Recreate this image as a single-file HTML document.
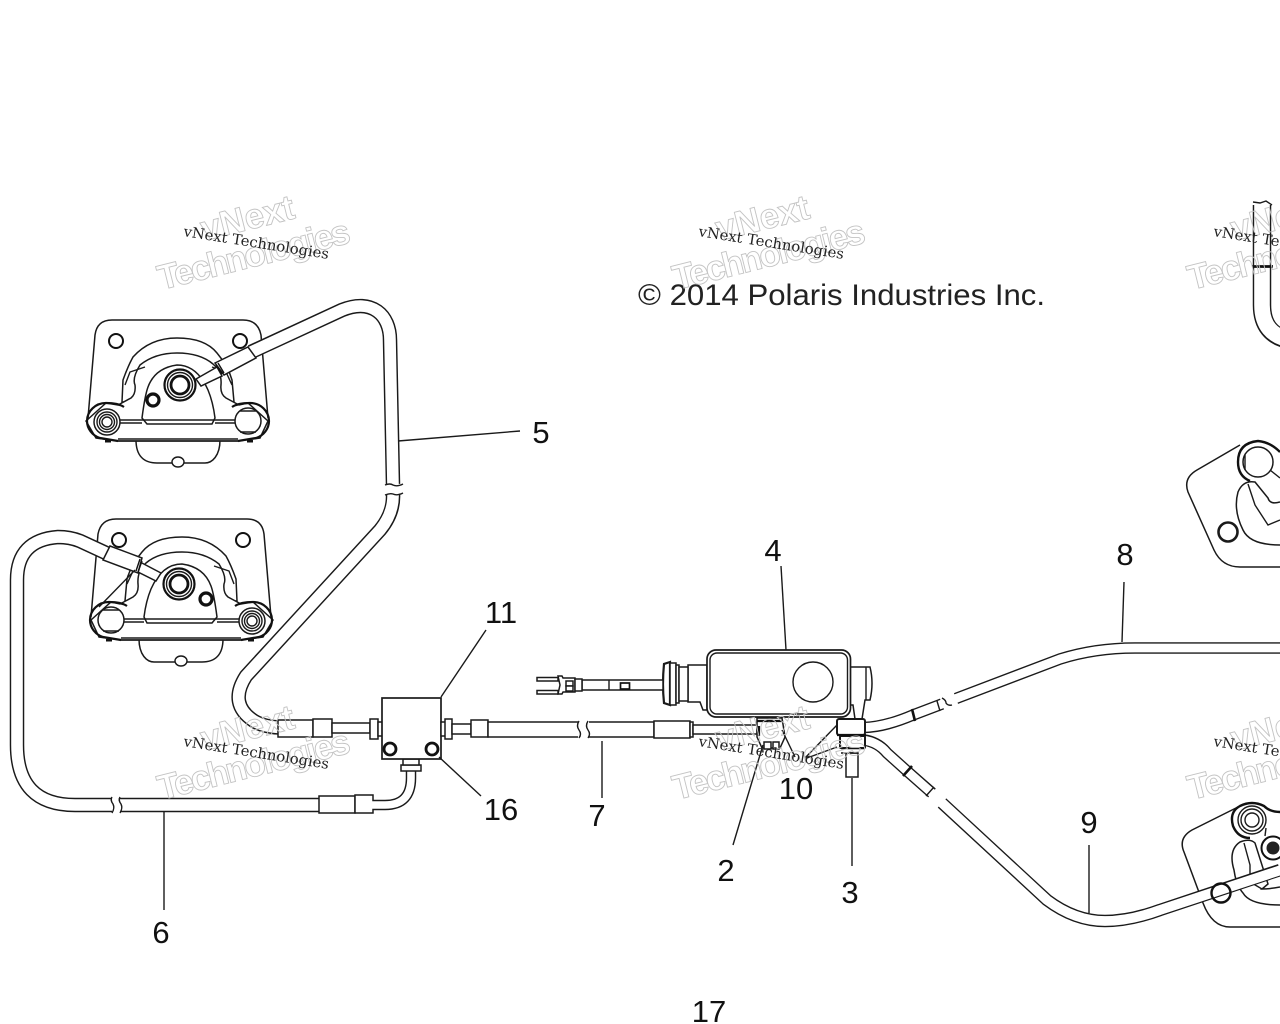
<!DOCTYPE html>
<html><head><meta charset="utf-8"><style>
html,body{margin:0;padding:0;background:#fff}
svg{display:block}
.l{fill:none;stroke:#1a1a1a;stroke-width:1.4}
.t{fill:#fff;stroke:#1a1a1a;stroke-width:1.5}
.b{fill:none;stroke:#111;stroke-width:2.6}
.n{font-family:"Liberation Sans",sans-serif;font-size:31px;fill:#111;text-anchor:middle}
.w1{font-family:"DejaVu Serif","Liberation Serif",serif;font-size:14.5px;fill:#222}
.w2{font-family:"Liberation Sans",sans-serif;font-size:35px;font-weight:700;fill:none;stroke:#c4c4c4;stroke-width:.9}
.tk{fill:none;stroke:#1a1a1a;stroke-linecap:butt;stroke-linejoin:round}
.tw{fill:none;stroke:#fff;stroke-linecap:butt;stroke-linejoin:round}
</style></head><body>
<svg width="1280" height="1024" viewBox="0 0 1280 1024" xmlns="http://www.w3.org/2000/svg">
<rect width="1280" height="1024" fill="#fff"/>
<defs>
<g id="cal">
<path class="t" d="M88,418 L95,335 Q97,320 112,320 L243,320 Q258,320 261,335 L268,418"/>
<circle cx="116" cy="341" r="7" fill="#fff" stroke="#111" stroke-width="2"/>
<circle cx="240" cy="341" r="7" fill="#fff" stroke="#111" stroke-width="2"/>
<path class="t" d="M136,440 C136,456 144,463 157,463 L171,463 L205,463 C212,463 220,456 220,440"/>
<ellipse cx="178" cy="462" rx="6" ry="5" fill="#fff" stroke="#1a1a1a" stroke-width="1.4"/>
<path class="t" d="M122,402 L123,380 Q128,366 133,357 Q150,338 177,338 Q205,338 217,353 Q228,366 232,380 L234,402Z"/>
<path class="t" d="M118,405 L131,398 Q136,394 135,385 Q132,378 140,365 Q155,353 177,353 Q200,353 213,364 Q222,372 221,385 Q220,394 226,398 L239,405 L248,403 L268,421 L260,438 L238,441 L118,441 L96,438 L86,421 L106,403Z"/>
<path class="l" d="M125,385 L130,372 L145,367 M232,385 L226,372 L212,367"/>
<path class="t" d="M142,418 Q145,395 148,387 Q155,368 177,365 Q197,365 208,390 Q213,402 215,418 L212,424 L147,424Z"/>
<path d="M87,421 A19,18 0 0 1 106,403 Q118,403 124,407 M87,421 A19,18 0 0 0 100,438 L118,441 M269,421 A19,18 0 0 0 250,403 Q238,403 232,407 M269,421 A19,18 0 0 1 256,438 L238,441" fill="none" stroke="#111" stroke-width="2.2"/>
<path class="l" d="M119,420 L238,420 M119,423 L142,423 M215,423 L238,423 M118,441 L238,441 M118,439 L238,439"/>
<circle class="t" cx="107" cy="422" r="13"/>
<circle class="l" cx="107" cy="422" r="10"/>
<circle class="l" cx="107" cy="422" r="7.5"/>
<circle class="l" cx="107" cy="422" r="5"/>
<circle cx="248" cy="421" r="13" fill="#fff" stroke="#1a1a1a" stroke-width="1.5"/>
<path class="l" d="M240,411 L256,411 M240,432 L256,432"/>
<circle cx="180" cy="385" r="15.500" fill="#fff" stroke="#111" stroke-width="2.2"/>
<circle class="l" cx="180" cy="385" r="12.500"/>
<circle cx="180" cy="385" r="9" fill="#fff" stroke="#111" stroke-width="2.8"/>
<circle cx="153" cy="400" r="6" fill="#fff" stroke="#111" stroke-width="3.2"/>
<rect x="105" y="440" width="6" height="2.5" fill="#111"/><rect x="247" y="440" width="6" height="2.5" fill="#111"/>
</g>
</defs>

<!-- calipers left -->
<use href="#cal"/>
<use href="#cal" transform="translate(359,199) scale(-1,1)"/>

<!-- tube 5 -->
<path class="tk" stroke-width="14.5" d="M251,352 L342,310 C372,298 390,315 390,340 L393,484"/>
<path class="tw" stroke-width="11.6" d="M250,352.600 L342,310 C372,298 390,315 390,340 L393,485"/>
<path class="tk" stroke-width="14.5" d="M393,494 Q394,513 380,530 L246,676 Q228,704 254,721 Q264,727 280,727.500"/>
<path class="tw" stroke-width="11.6" d="M393,493 Q394,513 380,530 L246,676 Q228,704 254,721 Q264,727 281,727.500"/>
<path class="l" d="M385,485 Q390,483 393,485 Q397,487 403,484 M385,495 Q390,493 393,494 Q397,496 403,493"/>

<!-- fittings upper caliper -->
<path class="t" d="M196,379 L217,367 L222,376 L201,386Z"/>
<path class="t" d="M215,363 L248,347 L256,358 L224,375Z"/>
<path class="b" style="stroke-width:1.4" d="M216,365 L222,374 M218,363 L224,373"/>

<!-- tube 6 + lower fitting -->
<path class="tk" stroke-width="14.5" d="M106,553 L80,541 Q70,537 58,537 Q17,540 17,580 L17,745 Q17,805 75,805 L112,805"/>
<path class="tw" stroke-width="11.6" d="M107,553.500 L80,541 Q70,537 58,537 Q17,540 17,580 L17,745 Q17,805 75,805 L113,805"/>
<path class="tk" stroke-width="14.5" d="M120,805 L320,805"/>
<path class="tw" stroke-width="11.6" d="M119,805 L321,805"/>
<path class="l" d="M112,797 Q110,800 113,804 Q115,808 112,813 M120,797 Q118,800 121,804 Q123,808 120,813"/>
<path class="t" d="M140,562 L161,573 L156,581 L136,571Z"/>
<path class="t" d="M110,546 L142,558 L138,573 L103,560Z"/>
<path class="l" d="M135,570 L99,607"/>
<path class="b" style="stroke-width:1.4" d="M140,559 L136,571 M142,561 L138,572"/>
<rect class="t" x="319" y="796" width="36" height="17"/>
<rect class="t" x="355" y="795" width="18" height="18"/>
<path class="tk" stroke-width="10.500" d="M373,805 L385,805 Q411,805 411,778 L411,770"/>
<path class="tw" stroke-width="7.600" d="M372,805 L385,805 Q411,805 411,778 L411,769"/>
<rect class="t" x="401" y="765" width="20" height="6"/>
<rect class="t" x="403" y="759" width="16" height="6"/>

<!-- main line -->
<rect class="t" x="278" y="720" width="35" height="17"/>
<rect class="t" x="313" y="719" width="19" height="18"/>
<rect class="t" x="332" y="723" width="38" height="10"/>
<rect class="t" x="370" y="719" width="8" height="20"/>
<rect class="t" x="378" y="722" width="5" height="14"/>
<rect class="t" x="382" y="698" width="59" height="61" style="stroke-width:1.7"/>
<circle cx="390" cy="749" r="6" fill="none" stroke="#111" stroke-width="2.800"/>
<circle cx="432" cy="749" r="6" fill="none" stroke="#111" stroke-width="2.800"/>
<rect class="t" x="441" y="722" width="5" height="14"/>
<rect class="t" x="445" y="719" width="7" height="20"/>
<rect class="t" x="452" y="724" width="19" height="10"/>
<rect class="t" x="471" y="720" width="17" height="17"/>
<rect class="t" x="488" y="722" width="92" height="15"/>
<rect class="t" x="587" y="722" width="67" height="15"/>
<rect x="578" y="718" width="11" height="23" fill="#fff"/>
<path class="l" d="M579,721 Q576,726 579,730 Q582,734 579,738 M588,721 Q585,726 588,730 Q591,734 588,738"/>
<rect class="t" x="654" y="721" width="36" height="17"/>
<rect class="t" x="690" y="722" width="3" height="15"/>
<rect class="t" x="693" y="725" width="64" height="9"/>

<!-- master cylinder -->
<path class="t" d="M688,665 L707,665 L707,710 L703,710 L700,702 L688,702Z"/>
<path class="t" d="M670,662 L664,664 Q662,684 664,703 L670,705Z" style="stroke-width:2.200"/>
<rect class="t" x="670" y="663" width="6" height="42"/>
<rect class="t" x="676" y="665" width="3" height="38"/>
<rect class="t" x="679" y="667" width="9" height="34"/>
<rect class="t" x="582" y="680" width="81" height="10"/>
<path class="l" d="M609,680 V690"/>
<rect x="620.500" y="683" width="9" height="6" fill="#fff" stroke="#111" stroke-width="1.700"/>
<path class="t" d="M558,676 L562,676 L563,678 L575,678 L575,692 L563,692 L562,694 L558,694 L560,685Z"/>
<rect class="t" x="575" y="679" width="7" height="12"/>
<rect class="t" x="566" y="681" width="7" height="5"/><rect class="t" x="566" y="686" width="7" height="5"/>
<rect class="t" x="537" y="677.500" width="21" height="3.500"/><rect class="t" x="537" y="690.500" width="21" height="3.500"/>
<path class="t" d="M850,667 L870,667 Q874,683 870,700 L865,700 L862,719 L855,719 L853,705 L850,705Z"/>
<path class="l" d="M866,667 V700"/>
<rect x="707" y="650" width="143.500" height="67" rx="9" fill="#fff" stroke="#1a1a1a" stroke-width="1.700"/>
<rect x="710" y="653" width="137.500" height="61" rx="7" fill="none" stroke="#1a1a1a" stroke-width="1.400"/>
<circle class="l" cx="813" cy="682" r="20"/>

<!-- clamp -->
<path class="t" d="M757,718 L782,718 L785,737 L780,748 L762,748 L757,737Z"/>
<path class="b" style="stroke-width:2.200" d="M757,721 L782,721 M759,726 V736"/>
<rect class="t" x="764" y="742" width="7" height="7"/><rect class="t" x="773" y="742" width="6" height="7"/>

<!-- tube 8 -->
<path class="tk" stroke-width="11.500" d="M864,727.500 Q885,727 913,715 L942,704"/>
<path class="tw" stroke-width="8.800" d="M863,727.500 Q885,727 913,715 L943,703.600"/>
<path class="b" d="M912,709 L915,721"/>
<path class="l" d="M937,701 L940,711"/>
<path class="l" d="M942,698 Q946,700 946,703 Q948,706 952,705"/>
<path class="tk" stroke-width="11.500" d="M956,698.500 L1060,659 Q1095,648 1135,648 L1280,648"/>
<path class="tw" stroke-width="8.800" d="M955,698.900 L1060,659 Q1095,648 1135,648 L1281,648"/>

<!-- tube 9 first part -->
<path class="tk" stroke-width="11.500" d="M864,740 Q878,742 887,753 L907,771 L932,793"/>
<path class="tw" stroke-width="8.800" d="M863,740 Q878,742 887,753 L907,771 L933,794"/>
<path class="b" d="M903,776 L912,766"/>
<path class="l" d="M926,796 L934,787"/>
<rect class="t" x="837" y="719" width="28" height="16" rx="2" style="stroke-width:2"/>
<rect class="t" x="840" y="736" width="25" height="12" rx="1" style="stroke-width:2"/>
<path d="M837,735 H866" stroke="#111" stroke-width="2.200"/>
<rect class="t" x="846" y="753" width="12" height="24"/>
<path class="b" style="stroke-width:1.600" d="M841,748.500 H865 M841,753 H858"/>

<!-- right upper -->
<path class="t" d="M1240,445 L1197,470 Q1183,478 1188,492 L1214,550 Q1222,567 1240,567 L1280,567"/>
<circle cx="1228" cy="532" r="9.500" fill="none" stroke="#1a1a1a" stroke-width="2.600"/>
<path d="M1280,452 Q1270,442 1258,441 Q1238,443 1238,462 Q1238,476 1250,481" fill="none" stroke="#111" stroke-width="2.400"/>
<circle class="t" cx="1258" cy="462" r="15"/>
<path class="l" d="M1245,455 L1245,470 M1270,470 L1280,478"/>
<path class="t" d="M1280,545 Q1250,545 1243,530 Q1233,510 1238,492 Q1243,480 1255,482 L1268,498 Q1270,505 1280,502"/>
<path class="l" d="M1248,484 L1255,505 L1268,525 L1280,520"/>
<path class="tk" stroke-width="18.500" d="M1262,205 L1262,305 Q1262,335 1290,340"/>
<path class="tw" stroke-width="15.600" d="M1262,204 L1262,305 Q1262,335 1291,340"/>
<path d="M1252,266.500 H1273" stroke="#111" stroke-width="2.800"/>
<path class="l" d="M1253,202 L1260,203 L1266,201 L1272,205"/>

<!-- right lower caliper -->
<path class="t" d="M1238,807 L1192,830 Q1178,838 1184,852 L1203,903 Q1212,927 1230,927 L1280,927"/>
<path d="M1280,812 Q1270,812 1264,806 Q1252,800 1240,806 Q1229,812 1233,826 Q1238,838 1250,838" fill="none" stroke="#111" stroke-width="2.400"/>
<circle class="l" cx="1252" cy="820" r="14"/>
<circle class="l" cx="1252" cy="820" r="11"/>
<circle class="l" cx="1252" cy="820" r="7"/>
<path class="l" d="M1266,828 L1265,836"/>
<path class="t" d="M1280,905 Q1250,905 1243,893 Q1236,885 1234,870 Q1228,850 1240,842 Q1250,838 1255,843 L1268,884 L1262,889 Q1270,889 1280,887"/>
<circle cx="1273" cy="848" r="11.500" fill="#fff" stroke="#111" stroke-width="2"/>
<circle cx="1273" cy="848" r="6.500" fill="#222"/>
<path class="l" d="M1244,843 L1250,865 L1250,882 L1262,889"/>

<!-- tube 9 second part, drawn over caliper -->
<path class="tk" stroke-width="12.500" d="M942,803 L1047,900 Q1075,921 1105,921 Q1130,921 1160,910 L1280,870"/>
<path class="tw" stroke-width="9.800" d="M941,802 L1047,900 Q1075,921 1105,921 Q1130,921 1160,910 L1281,870"/>
<circle cx="1221" cy="893" r="9.500" fill="none" stroke="#111" stroke-width="2.400"/>

<!-- leaders -->
<g class="l">
<path d="M398,441 L520,431"/>
<path d="M164,811 V910"/>
<path d="M602,741 V798"/>
<path d="M763,745 L733,845"/>
<path d="M852,778 V866"/>
<path d="M781,566 L786,650"/>
<path d="M1124,582 L1122,642"/>
<path d="M1089,845 V913"/>
<path d="M486,630 L441,697"/>
<path d="M439,757 L481,796"/>
<path d="M805,758 L837,725 M807,758 L837,747 M795,757 L782,730"/>
</g>

<!-- labels -->
<g class="n">
<text x="541" y="443">5</text>
<text x="161" y="943">6</text>
<text x="597" y="826">7</text>
<text x="726" y="881">2</text>
<text x="850" y="903">3</text>
<text x="773" y="561">4</text>
<text x="1125" y="565">8</text>
<text x="1089" y="833">9</text>
<text x="796" y="799">10</text>
<text x="501" y="623">11</text>
<text x="501" y="820">16</text>
<text x="709" y="1022">17</text>
</g>
<text x="638" y="305" font-family="Liberation Sans, sans-serif" font-size="30" fill="#222" textLength="407" lengthAdjust="spacingAndGlyphs">© 2014 Polaris Industries Inc.</text>

<!-- watermarks -->
<g>
<text class="w2" transform="translate(204,241) rotate(-14)">vNext</text>
<text class="w2" transform="translate(161,290) rotate(-14)" textLength="197">Technologies</text>
<text class="w1" transform="translate(183,236) rotate(9)" textLength="147" lengthAdjust="spacingAndGlyphs">vNext Technologies</text>
</g>
<g transform="translate(515,0)">
<text class="w2" transform="translate(204,241) rotate(-14)">vNext</text>
<text class="w2" transform="translate(161,290) rotate(-14)" textLength="197">Technologies</text>
<text class="w1" transform="translate(183,236) rotate(9)" textLength="147" lengthAdjust="spacingAndGlyphs">vNext Technologies</text>
</g>
<g transform="translate(1030,0)">
<text class="w2" transform="translate(204,241) rotate(-14)">vNext</text>
<text class="w2" transform="translate(161,290) rotate(-14)" textLength="197">Technologies</text>
<text class="w1" transform="translate(183,236) rotate(9)" textLength="147" lengthAdjust="spacingAndGlyphs">vNext Technologies</text>
</g>
<g transform="translate(0,510)">
<text class="w2" transform="translate(204,241) rotate(-14)">vNext</text>
<text class="w2" transform="translate(161,290) rotate(-14)" textLength="197">Technologies</text>
<text class="w1" transform="translate(183,236) rotate(9)" textLength="147" lengthAdjust="spacingAndGlyphs">vNext Technologies</text>
</g>
<g transform="translate(515,510)">
<text class="w2" transform="translate(204,241) rotate(-14)">vNext</text>
<text class="w2" transform="translate(161,290) rotate(-14)" textLength="197">Technologies</text>
<text class="w1" transform="translate(183,236) rotate(9)" textLength="147" lengthAdjust="spacingAndGlyphs">vNext Technologies</text>
</g>
<g transform="translate(1030,510)">
<text class="w2" transform="translate(204,241) rotate(-14)">vNext</text>
<text class="w2" transform="translate(161,290) rotate(-14)" textLength="197">Technologies</text>
<text class="w1" transform="translate(183,236) rotate(9)" textLength="147" lengthAdjust="spacingAndGlyphs">vNext Technologies</text>
</g>
</svg>
</body></html>
